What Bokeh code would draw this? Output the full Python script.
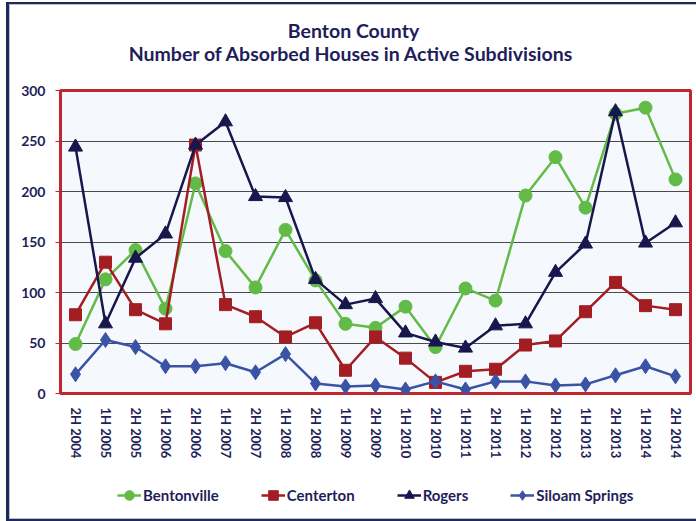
from bokeh.plotting import figure
from bokeh.layouts import column
from bokeh.models import Range1d, FactorRange, Legend, LegendItem, FixedTicker
from bokeh.core.properties import value
from bokeh.embed import file_html
from bokeh.resources import INLINE

periods = ["2H 2004", "1H 2005", "2H 2005", "1H 2006", "2H 2006", "1H 2007", "2H 2007",
           "1H 2008", "2H 2008", "1H 2009", "2H 2009", "1H 2010", "2H 2010", "1H 2011",
           "2H 2011", "1H 2012", "2H 2012", "1H 2013", "2H 2013", "1H 2014", "2H 2014"]
bentonville = [49, 113, 142, 84, 208, 141, 105, 162, 112, 69, 65, 86, 46, 104, 92, 196, 234, 184, 277, 283, 212]
centerton = [78, 130, 83, 69, 246, 88, 76, 56, 70, 23, 56, 35, 11, 22, 24, 48, 52, 81, 110, 87, 83]
rogers = [244, 69, 134, 158, 246, 269, 195, 194, 113, 88, 94, 60, 51, 45, 67, 69, 120, 148, 279, 149, 169]
siloam = [19, 53, 46, 27, 27, 30, 21, 39, 10, 7, 8, 4, 12, 4, 12, 12, 8, 9, 18, 27, 17]
y_ticks = [0, 50, 100, 150, 200, 250, 300]
title_lines = ["Benton County", "Number of Absorbed Houses in Active Subdivisions"]

FONT = "Lato"
NAVY_TXT = "#1E1E5A"
BORDER = "#1F2A5C"
W = 696
NAN = float("nan")


def bare(h):
    # strip figure; its frame is aligned by the column with the main chart frame (x 60..690)
    f = figure(width=W, height=h, x_range=Range1d(60, 690), y_range=Range1d(0, h),
               min_border=0, min_border_left=0, min_border_right=0,
               min_border_top=0, min_border_bottom=0,
               x_axis_location=None, y_axis_location=None,
               output_backend="svg", toolbar_location=None,
               background_fill_alpha=0, border_fill_alpha=0)
    f.grid.grid_line_color = None
    f.outline_line_color = None
    return f


# ---- title strip ----
tf = bare(72)
tf.text(x=[353, 351], y=[42, 19], text=title_lines, text_align="center",
        text_baseline="middle", text_font=value(FONT), text_font_style="bold",
        text_font_size="19.5px", text_color=NAVY_TXT)

# ---- main chart ----
p = figure(x_range=FactorRange(*periods, range_padding=0), y_range=Range1d(0, 300),
           frame_width=630, frame_height=303,
           min_border_left=60, min_border_right=6, min_border_top=18, min_border_bottom=82,
           output_backend="svg", toolbar_location=None,
           background_fill_color="#F5F8FD", border_fill_alpha=0)

p.outline_line_color = "#C0262D"
p.outline_line_width = 3
p.outline_line_alpha = 1

p.xgrid.grid_line_color = None
p.ygrid.grid_line_color = "#4A4A4A"
p.ygrid.grid_line_width = 1
p.yaxis.ticker = FixedTicker(ticks=y_ticks)

p.yaxis.axis_line_color = None
p.yaxis.major_tick_line_color = "#C0262D"
p.yaxis.major_tick_out = 5
p.yaxis.major_tick_in = 0
p.yaxis.minor_tick_line_color = None
p.yaxis.major_label_standoff = 10
p.yaxis.major_label_text_font = FONT
p.yaxis.major_label_text_font_style = "bold"
p.yaxis.major_label_text_font_size = "14px"
p.yaxis.major_label_text_color = NAVY_TXT

p.xaxis.axis_line_color = None
p.xaxis.major_tick_line_color = None
p.xaxis.major_tick_out = 0
p.xaxis.major_tick_in = 0
p.xaxis.major_label_orientation = "vertical"
p.xaxis.major_label_standoff = 14
p.xaxis.major_label_text_font = FONT
p.xaxis.major_label_text_font_style = "bold"
p.xaxis.major_label_text_font_size = "13px"
p.xaxis.major_label_text_color = NAVY_TXT

series = [
    ("Bentonville", bentonville, "#63BB47", "circle", 13),
    ("Centerton", centerton, "#A31E23", "square", 12),
    ("Rogers", rogers, "#17164D", "triangle", 14),
    ("Siloam Springs", siloam, "#3A53A4", "diamond", 15),
]

# ---- legend strip ----
lf = bare(46)
items = []
for name, vals, color, marker, size in series:
    p.line(periods, vals, line_color=color, line_width=2.5)
    p.scatter(periods, vals, marker=marker, size=size, fill_color=color, line_color=color)
    # legend-only proxies (no visible data)
    ll = lf.line(x=[NAN], y=[NAN], line_color=color, line_width=2.5)
    ls = lf.scatter(x=[NAN], y=[NAN], marker=marker, size=size, fill_color=color, line_color=color)
    items.append(LegendItem(label=name, renderers=[ll, ls]))

legend = Legend(items=items, orientation="horizontal", location=(57, 14),
                border_line_color=None, background_fill_alpha=0,
                glyph_width=24, glyph_height=24, label_standoff=2, spacing=42,
                padding=0, margin=0,
                label_text_font=FONT, label_text_font_style="bold",
                label_text_font_size="15px", label_text_color=NAVY_TXT)
lf.add_layout(legend)

layout = column(tf, p, lf, spacing=0)
layout.styles = {"box-shadow": (
    "inset 6px 0 0 0 #ffffff, inset 0 2px 0 0 #ffffff, "
    f"inset 9px 0 0 0 {BORDER}, inset 0 4px 0 0 {BORDER}, inset 0 -2px 0 0 {BORDER}, "
    "inset 10px 0 0 0 #B8BCCC, inset 0 5px 0 0 #B8BCCC, inset 0 -3px 0 0 #B8BCCC")}

open("out.html", "w").write(file_html(layout, INLINE))
